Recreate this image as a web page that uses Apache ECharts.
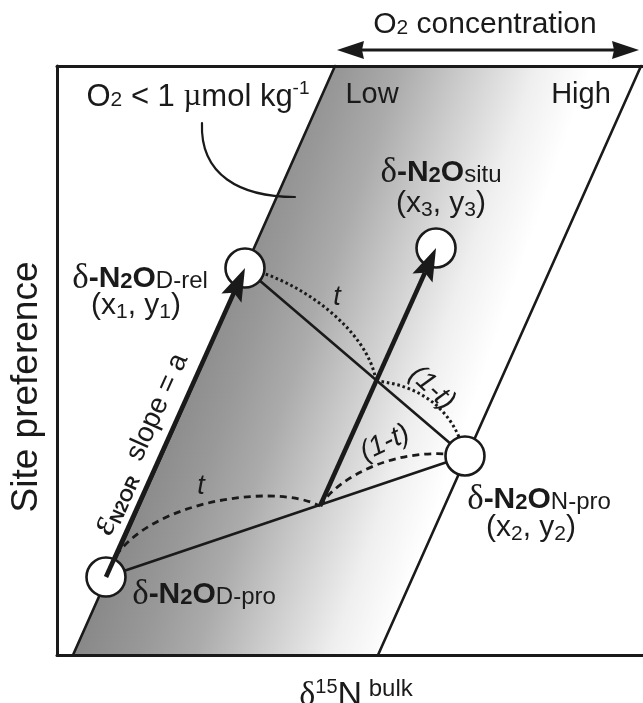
<!DOCTYPE html>
<html><head><meta charset="utf-8">
<script src="https://cdn.jsdelivr.net/npm/echarts@6/dist/echarts.min.js"></script>
<style>html,body{margin:0;padding:0;background:#fff}#c{width:643px;height:703px}</style>
</head><body><div id="c"></div>
<script>
// ---------- data (diagram coordinates: δ15N bulk 0-100, site preference 0-100) ----------
const bandBottom = [2.73, 54.78];   // band edges at SP = 0 (left, right)
const bandTop = [47.44, 99.66];     // band edges at SP = 100 (left, right)
const pointNames = ['D-pro', 'D-rel', 'N-pro', 'situ'];
const pointX = [8.36, 32.08, 69.62, 64.68];
const pointY = [13.24, 65.70, 33.79, 69.10];
const mixNames = ['production mix', 'situ mix'];
const mixX = [44.88, 54.44];
const mixY = [25.30, 46.52];
// cubic bezier arcs: start, control1, control2, end
const dashedArcs = [
  [8.36, 13.24, 11.60, 25.47, 36.35, 29.71, 44.88, 25.30],
  [44.88, 25.30, 48.29, 30.56, 58.53, 35.65, 69.62, 33.79]
];
const dottedArcs = [
  [32.08, 65.70, 41.47, 63.67, 53.07, 55.18, 54.44, 46.52],
  [54.44, 46.52, 61.95, 45.84, 67.92, 41.60, 69.62, 33.79]
];
const leaderCurve = [[24.74, 90.32, 24.40, 81.49, 31.23, 77.76, 40.61, 77.76]];
const o2Span = [47.78, 99.32];
const o2Level = 102.72;

// ---------- derived mark tables ----------
const edgeSegs = [
  [bandBottom[0], 0, bandTop[0], 100],
  [bandBottom[1], 0, bandTop[1], 100]
];
const mixSegs = [
  [pointX[0], pointY[0], pointX[2], pointY[2]],
  [pointX[1], pointY[1], pointX[2], pointY[2]]
];
const arrowSegs = [
  [pointX[0], pointY[0], pointX[1], pointY[1]],
  [mixX[0], mixY[0], pointX[3], pointY[3]]
];
const circles = pointX.map((x, i) => [x, pointY[i]]);

const SANS = '"Liberation Sans", Arial, Helvetica, sans-serif';
const SERIF = '"Liberation Serif", "Times New Roman", serif';
const INK = '#1a1a1a';

function tok(size, extra) { return Object.assign({fontSize: size, fontFamily: SANS, fill: INK, lineHeight: size + 6}, extra || {}); }
// smaller token sharing the baseline of a bigger one: pushed down with top padding
function base(size, big, extra) { const p = Math.round(0.66 * (big - size)); return Object.assign({fontSize: size, fontFamily: SANS, fill: INK, padding: [p, 0, 0, 0]}, extra || {}); }
function sub(size, big, L, drop, extra) { const s = 0.2 * (big - size) + drop; return tok(size, Object.assign({verticalAlign: 'bottom', lineHeight: L - 2 * s}, extra || {})); }
function sup(size, big, L, rise, extra) { const u = rise - 0.2 * (big - size); return tok(size, Object.assign({verticalAlign: 'top', lineHeight: L - 2 * u}, extra || {})); }

function segRender(width, dash) {
  return function (params, api) {
    const a = api.coord([api.value(0), api.value(1)]);
    const b = api.coord([api.value(2), api.value(3)]);
    return {type: 'line', shape: {x1: a[0], y1: a[1], x2: b[0], y2: b[1]},
      style: {stroke: INK, lineWidth: width, lineDash: dash || null, fill: null, lineCap: 'round'}};
  };
}
function bezRender(width, dash, cap) {
  return function (params, api) {
    const p = [0, 2, 4, 6].map(i => api.coord([api.value(i), api.value(i + 1)]));
    return {type: 'bezierCurve',
      shape: {x1: p[0][0], y1: p[0][1], cpx1: p[1][0], cpy1: p[1][1], cpx2: p[2][0], cpy2: p[2][1], x2: p[3][0], y2: p[3][1]},
      style: {stroke: INK, lineWidth: width, lineDash: dash || null, fill: 'none', lineCap: cap || 'butt'}};
  };
}
function arrowRender(width, headL, headW, notch, both) {
  return function (params, api) {
    const a = api.coord([api.value(0), api.value(1)]);
    const b = api.coord([api.value(2), api.value(3)]);
    const dx = b[0] - a[0], dy = b[1] - a[1], len = Math.hypot(dx, dy);
    const ux = dx / len, uy = dy / len;
    function head(T, sx, sy) {
      return {type: 'polygon', shape: {points: [
        [T[0], T[1]],
        [T[0] - headL * sx + headW * (-sy), T[1] - headL * sy + headW * sx],
        [T[0] - (headL - notch) * sx, T[1] - (headL - notch) * sy],
        [T[0] - headL * sx - headW * (-sy), T[1] - headL * sy - headW * sx]
      ]}, style: {fill: INK, stroke: null}};
    }
    const s0 = both ? [a[0] + (headL - notch) * ux, a[1] + (headL - notch) * uy] : a;
    const s1 = [b[0] - (headL - notch) * ux, b[1] - (headL - notch) * uy];
    const children = [{type: 'line', shape: {x1: s0[0], y1: s0[1], x2: s1[0], y2: s1[1]},
      style: {stroke: INK, lineWidth: width, fill: null}}, head(b, ux, uy)];
    if (both) children.push(head(a, -ux, -uy));
    return {type: 'group', children: children};
  };
}

const chart = echarts.init(document.getElementById('c'), null, {renderer: 'canvas'});
const axisCommon = {type: 'value', min: 0, max: 100, axisTick: {show: false}, axisLabel: {show: false},
  splitLine: {show: false}, z: 10, axisLine: {show: true, onZero: false, lineStyle: {color: INK, width: 3}}};

const pointLabelRich = (subText) => ({
  text: '{d|δ}{b|-N}{t|2}{b|O}{s|' + subText + '}', align: 'center', verticalAlign: 'middle',
  rich: {d: tok(35, {fontFamily: SERIF, lineHeight: 36}), b: tok(30, {fontWeight: 'bold', lineHeight: 36}),
    t: base(22, 30, {fontWeight: 'bold'}), s: base(24, 30)}
});
const coordRich = (n) => ({
  text: '{m|(x}{i|' + n + '}{m|, y}{i|' + n + '}{m|)}', align: 'center', verticalAlign: 'middle',
  rich: {m: tok(30, {lineHeight: 34}), i: sub(21, 30, 34, 5)}
});
const italic = (size) => ({fontSize: size, fontFamily: SANS, fontStyle: 'italic', fill: INK, align: 'center', verticalAlign: 'middle'});

const graphics = [
  {type: 'text', x: 485, y: 25, style: {text: '{m|O}{b|2}{m| concentration}', align: 'center', verticalAlign: 'middle',
    rich: {m: tok(30, {lineHeight: 34}), b: base(21, 30)}}},
  {type: 'text', x: 198, y: 97, style: {text: '{m|O}{b|2}{m| < 1 }{mu|µ}{m|mol kg}{p|-1}', align: 'center', verticalAlign: 'middle',
    rich: {m: tok(31, {lineHeight: 36}), b: base(21, 31), mu: tok(31, {fontFamily: SERIF, lineHeight: 36}), p: sup(19, 31, 36, 12)}}},
  {type: 'text', x: 372, y: 95, style: {text: 'Low', align: 'center', verticalAlign: 'middle', fontSize: 29, fontFamily: SANS, fill: INK}},
  {type: 'text', x: 581, y: 95, style: {text: 'High', align: 'center', verticalAlign: 'middle', fontSize: 29, fontFamily: SANS, fill: INK}},
  {type: 'text', x: 441, y: 173, style: pointLabelRich('situ')},
  {type: 'text', x: 441, y: 204, style: coordRich('3')},
  {type: 'text', x: 140, y: 279, style: pointLabelRich('D-rel')},
  {type: 'text', x: 136, y: 306, style: coordRich('1')},
  {type: 'text', x: 204, y: 595, style: pointLabelRich('D-pro')},
  {type: 'text', x: 539, y: 500, style: pointLabelRich('N-pro')},
  {type: 'text', x: 531, y: 528, style: coordRich('2')},
  {type: 'text', x: 201, y: 486, style: Object.assign({text: 't'}, italic(27))},
  {type: 'text', x: 337, y: 297, style: Object.assign({text: 't'}, italic(27))},
  {type: 'text', x: 385, y: 443, rotation: 25 * Math.PI / 180, style: Object.assign({text: '(1-t)'}, italic(28))},
  {type: 'text', x: 432, y: 388, rotation: -43 * Math.PI / 180, style: Object.assign({text: '(1-t)'}, italic(28))},
  {type: 'text', x: 141, y: 444, rotation: 65.8 * Math.PI / 180, style: {text: '{e|ε}{n|N2OR}{m|  slope = a}', align: 'center', verticalAlign: 'middle',
    rich: {e: tok(38, {fontFamily: SERIF, fontStyle: 'italic', lineHeight: 36}), n: sub(18, 28, 36, 4, {fontWeight: 'bold'}), m: tok(28, {lineHeight: 36})}}},
  {type: 'text', x: 27, y: 387, rotation: Math.PI / 2, style: {text: 'Site preference', align: 'center', verticalAlign: 'middle', fontSize: 37, fontFamily: SANS, fill: INK}},
  {type: 'text', x: 356, y: 696, style: {text: '{d|δ}{p|15}{m|N}{q| bulk}', align: 'center', verticalAlign: 'middle',
    rich: {d: tok(34, {fontFamily: SERIF, lineHeight: 38}), p: sup(20, 34, 38, 14), m: tok(34, {lineHeight: 38}), q: sup(24, 34, 38, 14)}}}
].map(g => Object.assign({z: 100}, g));

const option = {
  animation: false,
  backgroundColor: '#fff',
  grid: {left: 57, right: 0, top: 66, bottom: 48},
  xAxis: [Object.assign({position: 'bottom'}, axisCommon), Object.assign({position: 'top'}, axisCommon)],
  yAxis: [Object.assign({position: 'left'}, axisCommon)],
  series: [
    { // shaded band
      type: 'custom', z: 1, silent: true,
      data: [[bandBottom[0], 0, bandTop[0], 100, bandTop[1], 100, bandBottom[1], 0]],
      renderItem: function (params, api) {
        const pts = [0, 2, 4, 6].map(i => api.coord([api.value(i), api.value(i + 1)]));
        return {type: 'polygon', shape: {points: pts}, style: {stroke: null,
          fill: new echarts.graphic.LinearGradient(0.398, -0.112, 0.8935, 0.0552, [
            {offset: 0, color: '#878787'}, {offset: 0.225, color: '#999999'},
            {offset: 0.396, color: '#ababab'}, {offset: 0.589, color: '#cacaca'},
            {offset: 0.712, color: '#dddddd'}, {offset: 0.826, color: '#efefef'},
            {offset: 1, color: '#ffffff'}])}};
      }
    },
    {type: 'custom', z: 2, silent: true, data: edgeSegs, renderItem: segRender(2.6)},
    {type: 'custom', z: 2, silent: true, data: mixSegs, renderItem: segRender(2.6)},
    {type: 'custom', z: 2, silent: true, data: dashedArcs, renderItem: bezRender(2.8, [7, 5])},
    {type: 'custom', z: 2, silent: true, data: dottedArcs, renderItem: bezRender(3, [2.6, 2.8])},
    {type: 'custom', z: 2, silent: true, data: leaderCurve, renderItem: bezRender(2.2, null, 'round')},
    {type: 'scatter', z: 3, silent: true, data: circles, symbol: 'circle', symbolSize: 39,
      itemStyle: {color: '#ffffff', borderColor: INK, borderWidth: 2.6, opacity: 1}},
    {type: 'custom', z: 4, silent: true, data: arrowSegs, renderItem: arrowRender(4.6, 33, 11, 6, false)},
    {type: 'custom', z: 4, silent: true, clip: false, data: [[o2Span[0], o2Level, o2Span[1], o2Level]],
      renderItem: arrowRender(3, 27, 9, 2, true)}
  ],
  graphic: graphics
};
chart.setOption(option);
</script></body></html>
